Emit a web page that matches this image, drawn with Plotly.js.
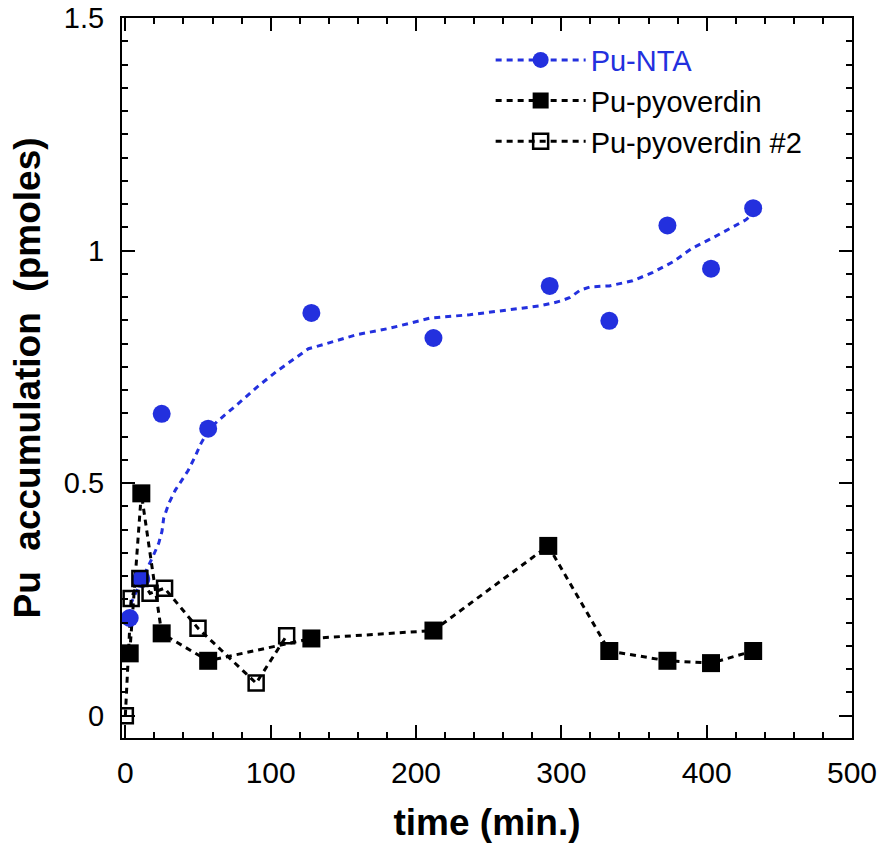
<!DOCTYPE html>
<html>
<head>
<meta charset="utf-8">
<script src="https://cdn.plot.ly/plotly-3.0.1.min.js"></script>
<style>html,body{margin:0;padding:0;background:#fff;}</style>
</head>
<body>
<div id="chart" style="width:896px;height:843px;"></div>
<script>
// Pu-NTA measured points
const ntaX = [3, 11, 25, 57, 128, 212, 292, 333, 373, 403, 432];
const ntaY = [0.21, 0.294, 0.649, 0.617, 0.866, 0.812, 0.924, 0.849, 1.054, 0.961, 1.091];
// Pu-NTA smoothed curve
const ntaFitX = [3, 4, 7, 11.5, 16, 19.5, 23, 25.2, 26.4, 30, 34.4, 39, 43.2, 48, 52, 57, 63, 76.6, 90.4, 104, 118, 126, 133, 159, 182, 210, 237, 258, 265, 285, 294, 300, 306, 313, 320, 333, 349, 363, 377, 390, 404, 418, 427, 432];
const ntaFitY = [0.215, 0.242, 0.263, 0.292, 0.32, 0.346, 0.371, 0.396, 0.425, 0.457, 0.485, 0.507, 0.527, 0.557, 0.585, 0.612, 0.632, 0.668, 0.706, 0.740, 0.771, 0.789, 0.795, 0.819, 0.833, 0.855, 0.862, 0.870, 0.872, 0.881, 0.887, 0.892, 0.899, 0.915, 0.922, 0.924, 0.935, 0.953, 0.976, 1.005, 1.027, 1.051, 1.066, 1.08];
// Pu-pyoverdin
const pyoX = [3, 11, 25, 57, 128, 212, 291, 333, 373, 403, 432];
const pyoY = [0.134, 0.478, 0.177, 0.118, 0.166, 0.183, 0.365, 0.139, 0.118, 0.113, 0.139];
// Pu-pyoverdin #2
const pyo2X = [0, 4, 10, 17, 27, 50, 90, 111];
const pyo2Y = [0, 0.252, 0.295, 0.263, 0.274, 0.188, 0.070, 0.172];

const names = ['Pu-NTA', 'Pu-pyoverdin', 'Pu-pyoverdin #2'];
const xTickVals = [0, 100, 200, 300, 400, 500];
const yTickVals = [0, 0.5, 1, 1.5];
const yTickText = ['0', '0.5', '1', '1.5'];

const BLUE = '#2330DE';
const BLACK = '#000000';
const FONT = 'Liberation Sans, Arial, Helvetica, sans-serif';
const dash = '6px,5px';

const traces = [
  {x: ntaFitX, y: ntaFitY, mode: 'lines', line: {color: BLUE, width: 3, dash: dash}, showlegend: false, hoverinfo: 'skip'},
  {x: pyoX, y: pyoY, mode: 'lines', line: {color: BLACK, width: 3, dash: dash}, showlegend: false},
  {x: pyo2X, y: pyo2Y, mode: 'lines', line: {color: BLACK, width: 3, dash: dash}, showlegend: false},
  {x: ntaX, y: ntaY, mode: 'markers', marker: {color: BLUE, size: 18, symbol: 'circle'}, showlegend: false},
  {x: pyoX, y: pyoY, mode: 'markers', marker: {color: BLACK, size: 18, symbol: 'square'}, showlegend: false},
  {x: pyo2X, y: pyo2Y, mode: 'markers', marker: {color: BLACK, size: 15, symbol: 'square-open', line: {color: BLACK, width: 2.5}}, showlegend: false},
  // legend entries
  {x: [null], y: [null], mode: 'lines+markers', name: '<span style="color:' + BLUE + '">' + names[0] + '</span>', line: {color: BLUE, width: 3, dash: dash}, marker: {color: BLUE, size: 18, symbol: 'circle'}},
  {x: [null], y: [null], mode: 'lines+markers', name: names[1], line: {color: BLACK, width: 3, dash: dash}, marker: {color: BLACK, size: 18, symbol: 'square'}},
  {x: [null], y: [null], mode: 'lines+markers', name: names[2], line: {color: BLACK, width: 3, dash: dash}, marker: {color: BLACK, size: 15, symbol: 'square-open', line: {color: BLACK, width: 2.5}}}
];

const layout = {
  width: 896, height: 843,
  margin: {l: 122, r: 44, t: 18, b: 105},
  paper_bgcolor: '#fff', plot_bgcolor: '#fff',
  font: {family: FONT, color: '#000', size: 28},
  showlegend: true,
  legend: {x: 0.505, y: 0.977, xanchor: 'left', yanchor: 'top', bgcolor: 'rgba(0,0,0,0)', font: {family: FONT, size: 29, color: '#000'}, itemwidth: 90, tracegroupgap: 0},
  xaxis: {
    range: [-2.3, 500], tickvals: xTickVals, ticks: 'inside', ticklen: 13, tickwidth: 2, tickcolor: '#000',
    minor: {dtick: 20, tick0: 0, ticks: 'inside', ticklen: 6, tickwidth: 2, tickcolor: '#000'},
    showline: true, linewidth: 2, linecolor: '#000', mirror: 'allticks', showgrid: false, zeroline: false,
    tickfont: {family: FONT, size: 30}, ticklabelstandoff: 7,
    title: {text: '<b>time (min.)</b>', font: {family: FONT, size: 37}, standoff: 24}
  },
  yaxis: {
    range: [-0.048, 1.5], tickvals: yTickVals, ticktext: yTickText, ticks: 'inside', ticklen: 13, tickwidth: 2, tickcolor: '#000',
    minor: {dtick: 0.05, tick0: 0, ticks: 'inside', ticklen: 6, tickwidth: 2, tickcolor: '#000'},
    showline: true, linewidth: 2, linecolor: '#000', mirror: 'allticks', showgrid: false, zeroline: false,
    tickfont: {family: FONT, size: 29}, ticklabelstandoff: 10,
    title: {text: '<b>Pu\u00a0\u00a0accumulation\u00a0\u00a0(pmoles)</b>', font: {family: FONT, size: 37}, standoff: 12}
  }
};

Plotly.newPlot('chart', traces, layout, {displayModeBar: false, staticPlot: true});
</script>
</body>
</html>
